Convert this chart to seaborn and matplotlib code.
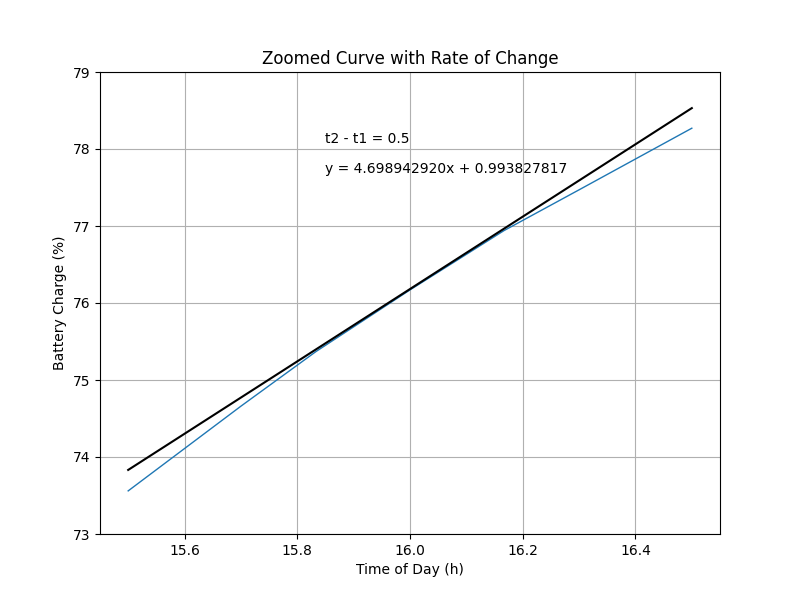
import matplotlib
matplotlib.use("Agg")
import matplotlib.pyplot as plt
import seaborn as sns
import pandas as pd

# Battery curve
curve_t = [15.5, 15.6, 15.7, 15.8333, 16.0, 16.1667, 16.3, 16.4, 16.5]
curve_y = [73.56, 74.11, 74.66, 75.37, 76.17, 76.94, 77.47, 77.87, 78.27]

# Tangent line endpoints
tangent_t = [15.5, 16.5]
tangent_y = [73.832, 78.531]

label_dt = "t2 - t1 = 0.5"
label_eq = "y = 4.698942920x + 0.993827817"

curve = pd.DataFrame({"t": curve_t, "y": curve_y})
tangent = pd.DataFrame({"t": tangent_t, "y": tangent_y})

fig, ax = plt.subplots(figsize=(8, 6), dpi=100)
sns.lineplot(data=curve, x="t", y="y", ax=ax, color="C0", linewidth=1)
sns.lineplot(data=tangent, x="t", y="y", ax=ax, color="black", linewidth=1.5)

ax.text(15.85, 78.08, label_dt)
ax.text(15.85, 77.69, label_eq)

ax.set_ylim(73, 79)
ax.set_title("Zoomed Curve with Rate of Change")
ax.set_xlabel("Time of Day (h)")
ax.set_ylabel("Battery Charge (%)")
ax.grid(True)

fig.savefig("out.png", dpi=100)
